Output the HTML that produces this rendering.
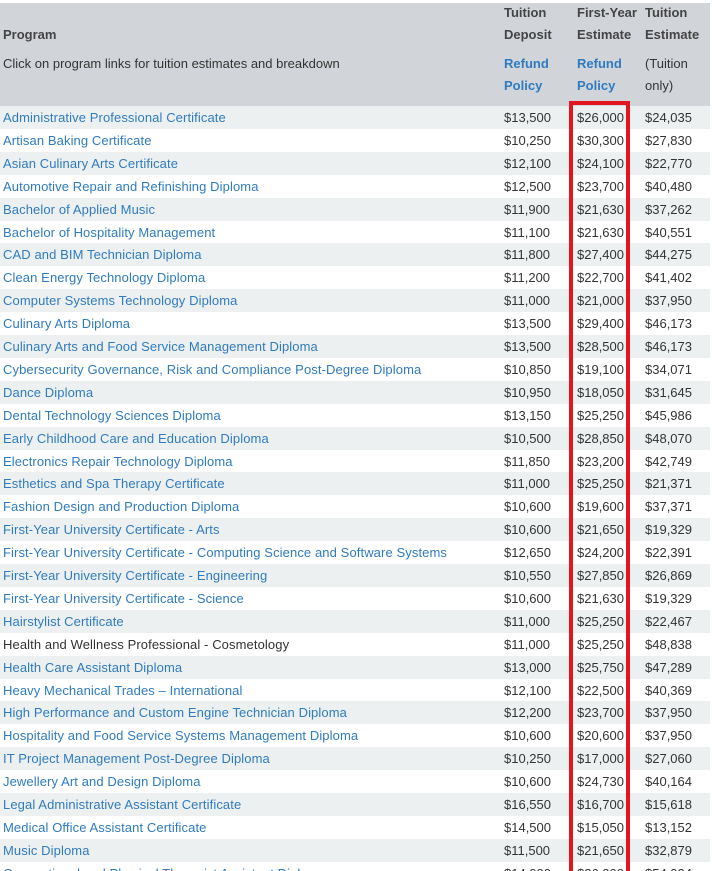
<!DOCTYPE html>
<html style="width:715px;height:871px;overflow:hidden"><head><meta charset="utf-8"><style>
*{margin:0;padding:0;box-sizing:border-box}
body{width:715px;height:871px;overflow:hidden;position:relative;background:#fff;font-family:"Liberation Sans",sans-serif;font-size:13px;color:#333}
.hdr{position:absolute;left:0;top:3px;width:710px;height:103px;background:#d1d5da}
.h{position:absolute;line-height:22px;font-weight:bold;color:#444}
.l{color:#2f7bbf}
.row{position:absolute;left:0;width:710px;height:23px;line-height:23px}
.row.s{background:#edf0f1}
.row span{position:absolute;top:0}
.p{left:3px;color:#2f7bbf;letter-spacing:0.1px}
.d{left:504px}.f{left:577px}.t{left:645px}
.box{position:absolute;left:569px;top:101px;width:61px;height:800px;border:4px solid #e3161f}
</style></head><body>
<div class="hdr"></div>
<div class="h" style="left:3px;top:24px">Program</div>
<div style="position:absolute;left:3px;top:53px;line-height:22px">Click on program links for tuition estimates and breakdown</div>
<div class="h" style="left:504px;top:2px">Tuition<br>Deposit</div>
<div class="h l" style="left:504px;top:53px">Refund<br>Policy</div>
<div class="h" style="left:577px;top:2px">First-Year<br>Estimate</div>
<div class="h l" style="left:577px;top:53px">Refund<br>Policy</div>
<div class="h" style="left:645px;top:2px">Tuition<br>Estimate</div>
<div style="position:absolute;left:645px;top:53px;line-height:22px">(Tuition<br>only)</div>
<div id="rows"></div>
<div class="box"></div>
<script>
var d=[["Administrative Professional Certificate","$13,500","$26,000","$24,035"],
["Artisan Baking Certificate","$10,250","$30,300","$27,830"],
["Asian Culinary Arts Certificate","$12,100","$24,100","$22,770"],
["Automotive Repair and Refinishing Diploma","$12,500","$23,700","$40,480"],
["Bachelor of Applied Music","$11,900","$21,630","$37,262"],
["Bachelor of Hospitality Management","$11,100","$21,630","$40,551"],
["CAD and BIM Technician Diploma","$11,800","$27,400","$44,275"],
["Clean Energy Technology Diploma","$11,200","$22,700","$41,402"],
["Computer Systems Technology Diploma","$11,000","$21,000","$37,950"],
["Culinary Arts Diploma","$13,500","$29,400","$46,173"],
["Culinary Arts and Food Service Management Diploma","$13,500","$28,500","$46,173"],
["Cybersecurity Governance, Risk and Compliance Post-Degree Diploma","$10,850","$19,100","$34,071"],
["Dance Diploma","$10,950","$18,050","$31,645"],
["Dental Technology Sciences Diploma","$13,150","$25,250","$45,986"],
["Early Childhood Care and Education Diploma","$10,500","$28,850","$48,070"],
["Electronics Repair Technology Diploma","$11,850","$23,200","$42,749"],
["Esthetics and Spa Therapy Certificate","$11,000","$25,250","$21,371"],
["Fashion Design and Production Diploma","$10,600","$19,600","$37,371"],
["First-Year University Certificate - Arts","$10,600","$21,650","$19,329"],
["First-Year University Certificate - Computing Science and Software Systems","$12,650","$24,200","$22,391"],
["First-Year University Certificate - Engineering","$10,550","$27,850","$26,869"],
["First-Year University Certificate - Science","$10,600","$21,630","$19,329"],
["Hairstylist Certificate","$11,000","$25,250","$22,467"],
["Health and Wellness Professional - Cosmetology","$11,000","$25,250","$48,838",1],
["Health Care Assistant Diploma","$13,000","$25,750","$47,289"],
["Heavy Mechanical Trades – International","$12,100","$22,500","$40,369"],
["High Performance and Custom Engine Technician Diploma","$12,200","$23,700","$37,950"],
["Hospitality and Food Service Systems Management Diploma","$10,600","$20,600","$37,950"],
["IT Project Management Post-Degree Diploma","$10,250","$17,000","$27,060"],
["Jewellery Art and Design Diploma","$10,600","$24,730","$40,164"],
["Legal Administrative Assistant Certificate","$16,550","$16,700","$15,618"],
["Medical Office Assistant Certificate","$14,500","$15,050","$13,152"],
["Music Diploma","$11,500","$21,650","$32,879"],
["Occupational and Physical Therapist Assistant Diploma","$14,000","$26,000","$54,034"]];
var h="";
d.forEach(function(r,i){var y=106+i*22.9;
h+='<div class="row'+(i%2==0?' s':'')+'" style="top:'+y+'px"><span class="p"'+(r[4]?' style="color:#333"':'')+'>'+r[0]+'</span><span class="d">'+r[1]+'</span><span class="f">'+r[2]+'</span><span class="t">'+r[3]+'</span></div>';});
document.getElementById("rows").innerHTML=h;
</script>
</body></html>
